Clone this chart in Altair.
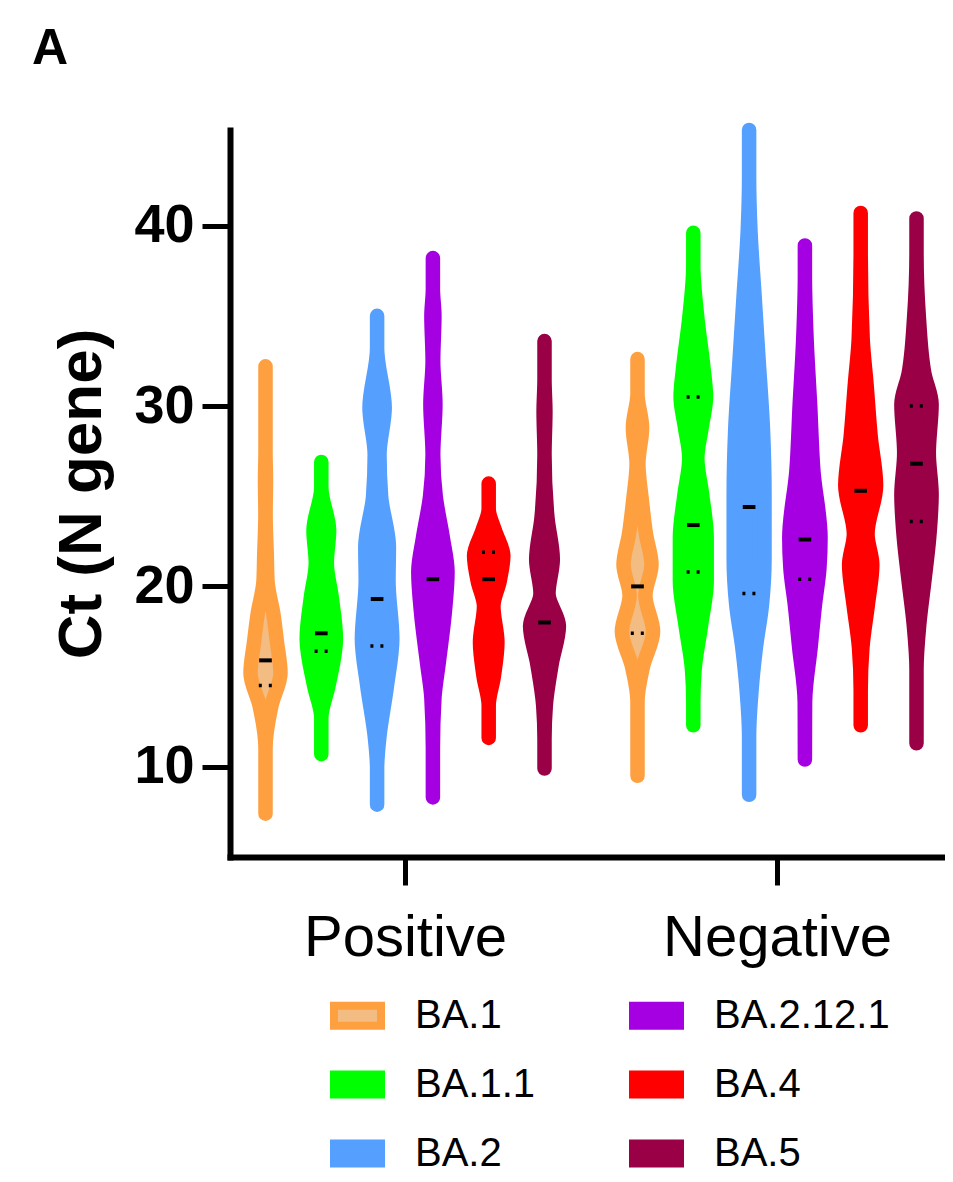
import altair as alt
import pandas as pd

# ---------------- data ----------------
GROUPS = ["Positive", "Negative"]
VARIANTS = ["BA.1", "BA.1.1", "BA.2", "BA.2.12.1", "BA.4", "BA.5"]
STROKE_COLORS = {"BA.1": "#FFA040", "BA.1.1": "#00FF00", "BA.2": "#559FFF",
                 "BA.2.12.1": "#A500E2", "BA.4": "#FF0000", "BA.5": "#990046"}
FILL_COLORS = {"BA.1": "#F2BC82", "BA.1.1": "#00FF00", "BA.2": "#559FFF",
               "BA.2.12.1": "#A500E2", "BA.4": "#FF0000", "BA.5": "#990046"}

# violin profiles: (Ct value, density half-width)
pos_ba1 = [(32.2, 0), (27.5, 0), (25.9, 0.5), (24.0, 0.1), (21.7, 1.3), (20.3, 2), (18.5, 7.8),
           (16.9, 11.5), (15.2, 15), (13.4, 6), (11.0, 0), (7.4, 0)]
pos_ba11 = [(26.9, 0), (25.5, 0), (23.1, 7.8), (21.3, 5.5), (19.4, 10.4), (17.1, 14.6),
            (14.5, 7.2), (12.7, 0), (10.7, 0)]
pos_ba2 = [(35.0, 0), (33.2, 0), (29.9, 7.6), (27.3, 2.4), (25.0, 4), (22.2, 11.8), (20.3, 11.4),
           (17.1, 15.2), (14.5, 9.9), (11.5, 2), (9.9, 0), (7.9, 0)]
pos_ba2121 = [(38.2, 0), (36.5, 0), (35.0, 1.5), (32.5, 0.3), (30.1, 2.5), (27.3, 0.3), (25.0, 2.8),
              (22.7, 9.9), (20.8, 14.6), (18.5, 11.8), (15.7, 5.7), (13.8, 1.5), (11.0, 0), (8.3, 0)]
pos_ba4 = [(25.7, 0), (24.3, 0), (23.1, 6.2), (21.7, 14.6), (20.3, 11), (18.9, 4.7), (16.9, 8.7),
           (15.0, 5.1), (13.4, 0), (11.6, 0)]
pos_ba5 = [(33.6, 0), (31.5, 0), (29.7, 0.9), (27.3, 0), (23.8, 3), (21.5, 8.3), (19.6, 4),
           (17.8, 14.4), (15.7, 7.2), (13.4, 1.3), (11.5, 0), (9.9, 0)]
neg_ba1 = [(32.6, 0), (30.7, 0), (28.8, 4.6), (26.8, 0.9), (24.9, 4.1), (22.9, 8.5), (21.2, 14),
           (19.5, 7.9), (17.5, 15.6), (15.6, 5.7), (13.6, 0), (9.5, 0)]
neg_ba11 = [(39.6, 0), (37.8, 0), (34.9, 4), (32.2, 10), (30.5, 12.7), (28.8, 8.3), (27.1, 4),
            (25.1, 8.8), (22.7, 13.4), (20.3, 13.4), (17.9, 7.9), (15.4, 1.3), (13.6, 0), (12.3, 0)]
neg_ba2 = [(45.3, 0), (42.7, 0), (39.8, 1.3), (36.1, 5.5), (32.5, 9.6), (28.8, 13.8), (25.1, 15.4),
           (21.5, 15.4), (19.0, 12.9), (16.6, 6.8), (14.2, 2.4), (11.7, 0), (8.45, 0)]
neg_ba2121 = [(38.9, 0), (37.3, 0), (33.7, 1.7), (30.1, 5.2), (26.4, 8.5), (22.7, 15.6), (21.0, 14.5),
              (19.0, 10.1), (16.6, 5.7), (13.6, 0.2), (10.4, 0)]
neg_ba4 = [(40.7, 0), (38.5, 0), (33.7, 2), (31.3, 5.7), (28.3, 10), (25.6, 15.4), (22.9, 6.8),
           (21.2, 11.6), (19.0, 7.2), (16.6, 1.7), (14.2, 0), (12.3, 0)]
neg_ba5 = [(40.4, 0), (38.5, 0), (34.9, 2.4), (31.8, 7.9), (30.1, 15.1), (27.4, 12.3), (25.1, 15.1),
           (22.7, 12.7), (20.3, 7.9), (17.9, 2.8), (15.4, 0), (11.3, 0)]

PROFILES = {
    "Positive": [pos_ba1, pos_ba11, pos_ba2, pos_ba2121, pos_ba4, pos_ba5],
    "Negative": [neg_ba1, neg_ba11, neg_ba2, neg_ba2121, neg_ba4, neg_ba5],
}
MEDIANS = {
    "Positive": [15.9, 17.4, 19.3, 20.4, 20.4, 18.0],
    "Negative": [20.0, 23.4, 24.4, 22.6, 25.3, 26.8],
}
QUARTILES = {
    "Positive": [[14.5], [16.4], [16.7], [], [21.9], []],
    "Negative": [[17.4], [30.5, 20.8], [19.6], [20.4], [], [30.0, 23.6]],
}

# ---------------- layout constants ----------------
STEP = 0.15          # spacing between variants within a group (x units)
DENS = 1.0 / 372     # density unit -> x units
MED_HALF = 0.017
Q_HALF = 0.018
FONT = "Liberation Sans"

vrows, mrows, qrows = [], [], []
for gi, g in enumerate(GROUPS):
    for vi, v in enumerate(VARIANTS):
        c = gi + (vi - 2.5) * STEP
        for ct, w in sorted(PROFILES[g][vi]):
            vrows.append({"vid": f"{g}-{v}", "variant": v, "ct": ct,
                          "xlo": c - w * DENS, "xhi": c + w * DENS})
        mrows.append({"ct": MEDIANS[g][vi], "xlo": c - MED_HALF, "xhi": c + MED_HALF})
        for q in QUARTILES[g][vi]:
            qrows.append({"ct": q, "xlo": c - Q_HALF, "xhi": c + Q_HALF})

vdf = pd.DataFrame(vrows)
mdf = pd.DataFrame(mrows)
qdf = pd.DataFrame(qrows)

W, H = 715, 727
xscale = alt.Scale(domain=[-175 / 372, 540 / 372], nice=False, zero=False)
yscale = alt.Scale(domain=[5, 45.3], nice=False, zero=False)

x_axis = alt.Axis(values=[0, 1], labelExpr="datum.value == 0 ? 'Positive' : 'Negative'",
                  title=None, grid=False, tickSize=28, tickWidth=5, tickColor="black",
                  domainWidth=6, domainColor="black", domainCap="square", labelLimit=500,
                  labelFont=FONT, labelFontSize=58, labelColor="black", labelPadding=24)
y_axis = alt.Axis(values=[10, 20, 30, 40], title="Ct (N gene)", grid=False, tickSize=28,
                  tickWidth=5, tickColor="black", domainWidth=6, domainColor="black",
                  domainCap="square", labelFont=FONT, labelFontSize=54, labelFontWeight="bold",
                  labelColor="black", labelPadding=8, titleFont=FONT, titleFontSize=62,
                  titleFontWeight="bold", titleColor="black", titlePadding=20)

legend = alt.Legend(title=None, orient="none", legendX=100, legendY=858, columns=2,
                    symbolType="M-1,-0.425H1V0.425H-1Z", symbolSize=2209,
                    symbolStrokeWidth=8, symbolOpacity=1, labelFont=FONT, labelFontSize=40,
                    labelLimit=400, labelColor="black", labelOffset=30, rowPadding=15,
                    columnPadding=81)

fill_scale = alt.Scale(domain=VARIANTS, range=[FILL_COLORS[v] for v in VARIANTS])
stroke_scale = alt.Scale(domain=VARIANTS, range=[STROKE_COLORS[v] for v in VARIANTS])

violins = alt.Chart(vdf).mark_area(
    orient="horizontal", interpolate="monotone", strokeWidth=14.5,
    strokeJoin="round", opacity=1
).encode(
    y=alt.Y("ct:Q", scale=yscale, axis=y_axis),
    x=alt.X("xlo:Q", scale=xscale, axis=x_axis, stack=None),
    x2="xhi:Q",
    fill=alt.Fill("variant:N", scale=fill_scale, legend=legend),
    stroke=alt.Stroke("variant:N", scale=stroke_scale, legend=legend),
    detail="vid:N",
)

medians = alt.Chart(mdf).mark_rule(color="black", strokeWidth=4).encode(
    y="ct:Q", x="xlo:Q", x2="xhi:Q")
quarts = alt.Chart(qdf).mark_rule(color="black", strokeWidth=3.5, strokeDash=[3, 7]).encode(
    y="ct:Q", x="xlo:Q", x2="xhi:Q")

chart = alt.layer(violins, medians, quarts).properties(
    width=W, height=H,
    autosize=alt.AutoSizeParams(type="none"),
    padding={"left": 222, "top": 122, "right": 0, "bottom": 316},
    title=alt.TitleParams(text="A", anchor="start", frame="group", font=FONT, fontSize=50,
                          fontWeight="bold", color="black", dx=-198, offset=49),
).configure(background="white").configure_view(stroke=None)

chart.save("out.html", embed_options={"renderer": "svg", "actions": False})
